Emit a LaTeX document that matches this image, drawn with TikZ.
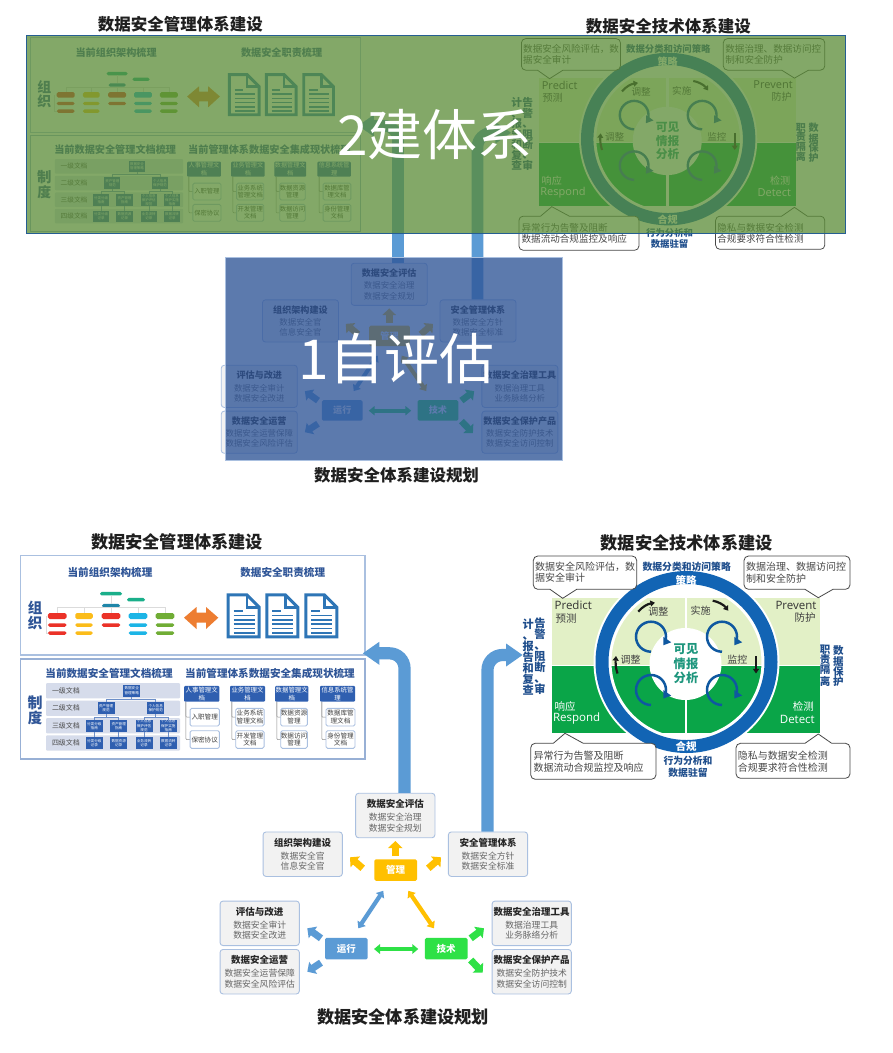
\documentclass[tikz,border=0pt]{standalone}
\usepackage{fontspec}
\setmainfont{Noto Sans CJK SC}
\newfontfamily\latinf{Open Sans}
\usetikzlibrary{arrows.meta}
\definecolor{ovG}{RGB}{90,140,54}
\definecolor{ovB}{RGB}{47,85,151}
\definecolor{navy}{RGB}{47,85,151}
\definecolor{deepnavy}{RGB}{31,78,140}
\definecolor{bigblue}{RGB}{91,155,213}
\definecolor{ringblue}{RGB}{18,100,180}
\definecolor{loopblue}{RGB}{15,88,160}
\definecolor{lightq}{RGB}{226,240,198}
\definecolor{darkq}{RGB}{10,165,72}
\definecolor{docblue}{RGB}{46,117,182}
\definecolor{boxblue}{RGB}{47,95,176}
\definecolor{band}{RGB}{214,220,235}
\definecolor{edgeblue}{RGB}{170,192,224}
\definecolor{amber}{RGB}{255,192,0}
\definecolor{techgreen}{RGB}{46,225,70}
\definecolor{teal}{RGB}{30,150,125}
\definecolor{pillred}{RGB}{235,50,40}
\definecolor{pillyellow}{RGB}{251,188,26}
\definecolor{pillcyan}{RGB}{28,181,230}
\definecolor{pillgreen}{RGB}{112,173,53}
\definecolor{pilldeep}{RGB}{31,134,168}
\definecolor{pillteal}{RGB}{26,175,138}
\definecolor{swaporange}{RGB}{237,125,49}
\tikzset{
  x=1pt,y=-1pt,
  bigtitle/.style={font=\fontsize{17.2}{19}\selectfont\bfseries,text=black!88,inner sep=0},
  panelbox/.style={draw=edgeblue,line width=1.1pt,fill=white},
  headtext/.style={font=\fontsize{10.6}{12}\selectfont\bfseries,text=navy,inner sep=0},
  sidehead/.style={font=\fontsize{14.5}{15}\selectfont\bfseries,text=navy,inner sep=0,align=center},
  pillbox/.style={rounded corners=1.7pt,inner sep=0},
  faint/.style={draw=black!14,line width=.4pt},
  bandbox/.style={fill=band,rounded corners=1pt,inner sep=0,minimum width=134pt,minimum height=15.2pt},
  bandtext/.style={font=\fontsize{7}{8}\selectfont,text=black!70,inner sep=0},
  treebox/.style={fill=boxblue,text=white,inner sep=0,align=center,minimum width=17pt,minimum height=11.7pt,font=\fontsize{3.6}{4.4}\selectfont},
  treeline/.style={draw=boxblue!70,line width=.5pt},
  colhead/.style={fill=boxblue,text=white,inner sep=0,align=center,rounded corners=1pt,minimum height=15.7pt,font=\fontsize{6.4}{7.8}\selectfont},
  colitem/.style={fill=white,draw=edgeblue,line width=.9pt,rounded corners=1.5pt,inner sep=0,align=center,minimum height=17.6pt,text=black!75,font=\fontsize{6.6}{7.8}\selectfont},
  collink/.style={draw=black!45,line width=.5pt,rounded corners=1pt},
  callout/.style={draw=black!72,line width=.8pt,fill=white},
  calltext/.style={font=\fontsize{10}{11.7}\selectfont,text=black!72,inner sep=0,anchor=west,align=left},
  quadlat/.style={font=\latinf\fontsize{11.5}{13}\selectfont,inner sep=0},
  quadcjk/.style={font=\fontsize{10.5}{12}\selectfont,inner sep=0},
  looparrow/.style={draw=loopblue,line width=2.5pt,-{Triangle[length=7pt,width=9pt]}},
  bentblack/.style={draw=black!90,line width=2.2pt,-{Triangle[length=4.6pt,width=6pt]}},
  looplabel/.style={font=\fontsize{10}{11}\selectfont,text=black!75,inner sep=0},
  sidestack/.style={font=\fontsize{11.2}{11}\selectfont\bfseries,text=deepnavy,inner sep=0,align=center},
  sidestacksmall/.style={font=\fontsize{10.5}{10}\selectfont\bfseries,text=deepnavy,inner sep=0,align=center},
  navybold/.style={font=\fontsize{9.8}{12}\selectfont\bfseries,text=deepnavy,inner sep=0,align=center},
  infobox/.style={fill=black!5,draw=edgeblue,line width=.9pt,rounded corners=3pt,inner sep=0,align=center,minimum width=79.3pt,minimum height=44.5pt,text=black!60,font=\fontsize{8.8}{10.6}\selectfont},
  hub/.style={rounded corners=1.5pt,inner sep=0,text=white,minimum width=42.6pt,minimum height=21.5pt,font=\fontsize{9.5}{11}\selectfont\bfseries},
  blockarrow/.style={line width=7pt,-{Triangle[length=7pt,width=14pt]}},
  slimarrow/.style={line width=4.2pt,{Triangle[length=6pt,width=9.5pt]}-{Triangle[length=6pt,width=9.5pt]}},
  bentarrow/.style={draw=bigblue,line width=12.2pt,rounded corners=15pt,-{Triangle[length=16.6pt,width=21.8pt]}},
  bigword/.style={font=\fontsize{55}{60}\selectfont,text=white,inner sep=0}
}
\newcommand\pillnode[6]{\node[pillbox,fill=#6,minimum width=#4pt,minimum height=#5pt] (#1) at (#2,#3) {};}
\newcommand\docicon[2]{%
  \begin{scope}[shift={(#1,#2)},draw=docblue,line width=3pt,line join=miter]
    \draw (1.5,1.5) -- (20,1.5) -- (32.5,14) -- (32.5,43.5) -- (1.5,43.5) -- cycle;
    \draw[line width=2.4pt] (20,1.5) -- (20,14) -- (32.5,14);
    \draw[line width=1.6pt] (7,17.5) -- (16,17.5) (7,22) -- (28,22) (7,26.4) -- (28,26.4) (7,30.8) -- (28,30.8) (7,35.2) -- (28,35.2) (7,39.4) -- (28,39.4);
  \end{scope}}
\newcommand\stack[1]{\lineskiplimit=-10pt\relax #1}
% ---------- left panel: management system ----------
\newcommand\panelMgmt[1]{%
  \node[bigtitle] (#1title) at (177,541.7) {数据安全管理体系建设};
  \node[panelbox,minimum width=344.3pt,minimum height=99.3pt,inner sep=0] (#1org) at (192.85,605.35) {};
  \node[panelbox,minimum width=344.3pt,minimum height=100pt,inner sep=0,draw=edgeblue!85!navy] (#1sys) at (192.85,709) {};
  \node[headtext] (#1h1) at (110,572) {当前组织架构梳理};
  \node[headtext] (#1h2) at (282.7,572) {数据安全职责梳理};
  \node[sidehead] (#1zz) at (35,615) {\fontsize{14.5}{14.3}\selectfont 组\\织};
  \pillnode{#1a1}{57.3}{616}{18.7}{6}{pillred}
  \pillnode{#1a2}{57.3}{625}{18.7}{3.5}{pillred}
  \pillnode{#1a3}{57.3}{633}{18.7}{3.5}{pillred}
  \pillnode{#1b1}{84}{616}{17.5}{6}{pillyellow}
  \pillnode{#1b2}{84}{625}{17.5}{3.5}{pillyellow}
  \pillnode{#1b3}{84}{633}{17.5}{3.5}{pillyellow}
  \pillnode{#1c1}{111}{616}{18.7}{6}{pillred}
  \pillnode{#1c2}{111}{625}{18.7}{3.5}{pillred}
  \pillnode{#1c3}{111}{605.7}{18}{3.5}{pilldeep}
  \pillnode{#1c4}{111}{593.7}{22}{3.5}{pillteal}
  \pillnode{#1d1}{138}{616}{18.7}{6}{pillcyan}
  \pillnode{#1d2}{138}{625}{18.7}{3.5}{pillcyan}
  \pillnode{#1d3}{138}{633}{18.7}{3.5}{pillcyan}
  \pillnode{#1d4}{136}{599.7}{18}{3.5}{pillteal}
  \pillnode{#1e1}{165}{616}{18.7}{6}{pillgreen}
  \pillnode{#1e2}{165}{625}{18.7}{3.5}{pillgreen}
  \pillnode{#1e3}{165}{633}{18.7}{3.5}{pillgreen}
  \draw[faint] (#1a1.north) |- (#1e1.north |- #1c3.south) -- (#1e1.north);
  \draw[faint] (#1b1.north) -- (#1b1.north |- #1c3.south);
  \draw[faint] (#1d1.north) -- (#1d1.north |- #1c3.south);
  \draw[faint] (#1c4.south) -- (#1c3.north);
  \draw[faint] (#1c3.south) -- (#1c1.north);
  \draw[faint] ([xshift=-2pt]#1a1.west) |- (#1a3.west);
  \fill[swaporange] (184,617.7) -- (196.5,607) -- (196.5,612.7) -- (206,612.7) -- (206,607) -- (218.3,617.7) -- (206,629) -- (206,622.7) -- (196.5,622.7) -- (196.5,629) -- cycle;
  \docicon{226.7}{593.3}\docicon{265.3}{593.3}\docicon{304.3}{593.3}
  \node[headtext] (#1h3) at (109,673) {当前数据安全管理文档梳理};
  \node[headtext] (#1h4) at (270,673) {当前管理体系数据安全集成现状梳理};
  \node[sidehead] (#1zd) at (35,710) {\fontsize{15}{15}\selectfont 制\\度};
  \node[bandbox] (#1r1) at (113,690.8) {};
  \node[bandbox] (#1r2) at (113,708.3) {};
  \node[bandbox] (#1r3) at (113,725.8) {};
  \node[bandbox] (#1r4) at (113,742.9) {};
  \node[bandtext] (#1l1) at (66,690.8) {一级文档};
  \node[bandtext] (#1l2) at (66,708.3) {二级文档};
  \node[bandtext] (#1l3) at (66,725.8) {三级文档};
  \node[bandtext] (#1l4) at (66,742.9) {四级文档};
  \node[treebox] (#1t0) at (131.7,690.7) {数据安全\\管理策略};
  \node[treebox] (#1t1) at (106,708.3) {资产管理\\规范};
  \node[treebox] (#1t2) at (155.7,708.3) {个人信息\\保护规范};
  \node[treebox] (#1u1) at (94.3,726) {分类分级\\指南};
  \node[treebox] (#1u2) at (118.7,726) {资产管理\\指南};
  \node[treebox] (#1u3) at (144,726) {个人信息\\保护评估\\规范};
  \node[treebox] (#1u4) at (168.3,726) {个人信息\\保护实施\\指南};
  \node[treebox] (#1v1) at (94.3,743.3) {分类分级\\记录};
  \node[treebox] (#1v2) at (118.7,743.3) {数据资源\\记录};
  \node[treebox] (#1v3) at (144,743.3) {业务流转\\记录};
  \node[treebox] (#1v4) at (168.3,743.3) {数据流转\\记录};
  \draw[treeline] (#1t0.south) -- +(0,2.2) -| (#1t1.north);
  \draw[treeline] (#1t0.south) -- +(0,2.2) -| (#1t2.north);
  \draw[treeline] (#1t1.south) -- +(0,3) -| (#1u1.north);
  \draw[treeline] (#1t1.south) -- +(0,3) -| (#1u2.north);
  \draw[treeline] (#1t2.south) -- +(0,3) -| (#1u3.north);
  \draw[treeline] (#1t2.south) -- +(0,3) -| (#1u4.north);
  \draw[treeline] (#1u1) -- (#1v1); \draw[treeline] (#1u2) -- (#1v2);
  \draw[treeline] (#1u3) -- (#1v3); \draw[treeline] (#1u4) -- (#1v4);
  \node[colhead,minimum width=35.3pt] (#1c01) at (201.7,693.8) {人事管理文\\档};
  \node[colhead,minimum width=35pt] (#1c02) at (247.5,693.8) {业务管理文\\档};
  \node[colhead,minimum width=33.3pt] (#1c03) at (291.7,693.8) {数据管理文\\档};
  \node[colhead,minimum width=35pt] (#1c04) at (337.5,693.8) {信息系统管\\理};
  \draw[collink] ([xshift=2pt]#1c01.south west) |- (197,717.2);
  \draw[collink] ([xshift=2pt]#1c01.south west) |- (197,739.5);
  \draw[collink] ([xshift=2pt]#1c02.south west) |- (242,717.2);
  \draw[collink] ([xshift=2pt]#1c02.south west) |- (242,739.5);
  \draw[collink] ([xshift=2pt]#1c03.south west) |- (286,717.2);
  \draw[collink] ([xshift=2pt]#1c03.south west) |- (286,739.5);
  \draw[collink] ([xshift=2pt]#1c04.south west) |- (332,717.2);
  \draw[collink] ([xshift=2pt]#1c04.south west) |- (332,739.5);
  \node[colitem,minimum width=29.3pt] (#1i11) at (204.7,717.2) {入职管理};
  \node[colitem,minimum width=29.3pt] (#1i12) at (204.7,739.5) {保密协议};
  \node[colitem,minimum width=28.3pt] (#1i21) at (249.9,717.2) {业务系统\\管理文档};
  \node[colitem,minimum width=28.3pt] (#1i22) at (249.9,739.5) {开发管理\\文档};
  \node[colitem,minimum width=26.6pt] (#1i31) at (294,717.2) {数据资源\\管理};
  \node[colitem,minimum width=26.6pt] (#1i32) at (294,739.5) {数据访问\\管理};
  \node[colitem,minimum width=29pt] (#1i41) at (340.5,717.2) {数据库管\\理文档};
  \node[colitem,minimum width=29pt] (#1i42) at (340.5,739.5) {身份管理\\文档};
}
% ---------- right panel: technology system ----------
\newcommand\panelTech[1]{%
  \node[bigtitle] (#1title) at (686.7,543) {数据安全技术体系建设};
  \fill[lightq] (552,598) rectangle (684.7,665);
  \fill[lightq] (687.3,598) rectangle (820,665);
  \fill[darkq] (552,665) rectangle (684.7,732.7);
  \fill[darkq] (687.3,665) rectangle (820,732.7);
  \fill[white] (552,664.6) rectangle (820,665.4);
  \draw[white,line width=18pt] (686.5,662) circle (84);
  \draw[ringblue,line width=13pt] (686.5,662) circle (84.5);
  \node[circle,fill=white,minimum size=72pt,inner sep=0] (#1core) at (685.5,664) {};
  \node[font=\fontsize{12.3}{14.5}\selectfont\bfseries,text=teal,align=center,inner sep=0] (#1cotx) at (686,664) {可见\\情报\\分析};
  \node[font=\fontsize{10.5}{12}\selectfont\bfseries,text=white,inner sep=0] (#1ring1) at (686,580) {策略};
  \node[font=\fontsize{10.5}{12}\selectfont\bfseries,text=white,inner sep=0] (#1ring2) at (686,746.7) {合规};
  \draw[looparrow] (651,636.7) ++(90:15) arc (90:395:15);
  \draw[looparrow] (722,636.7) ++(90:15) arc (90:395:15);
  \draw[looparrow] (651,690) ++(90:15) arc (90:395:15);
  \draw[looparrow] (722,690) ++(90:15) arc (90:395:15);
  \draw[bentblack] (638.3,611.7) .. controls (643,606) and (648,604) .. (655,602.7);
  \draw[bentblack] (712.7,600.7) .. controls (718,601.5) and (724,605) .. (728.3,610.7);
  \draw[bentblack] (617.5,673.5) .. controls (615.5,668) and (615.5,662) .. (616,656);
  \draw[bentblack] (756,656) -- (756,673.5);
  \node[looplabel] (#1m1) at (658.3,611.7) {调整};
  \node[looplabel] (#1m2) at (700.7,610.7) {实施};
  \node[looplabel] (#1m3) at (630.7,659.3) {调整};
  \node[looplabel] (#1m4) at (737.3,659.3) {监控};
  \node[quadlat,text=black!80] (#1q1) at (573.3,605) {Predict};
  \node[quadcjk,text=black!75] (#1q2) at (566,618.3) {预测};
  \node[quadlat,text=black!80] (#1q3) at (796,605) {Prevent};
  \node[quadcjk,text=black!75] (#1q4) at (805,617.7) {防护};
  \node[quadcjk,text=white] (#1q5) at (565,706) {响应};
  \node[quadlat,text=white] (#1q6) at (576.7,719) {Respond};
  \node[quadcjk,text=white] (#1q7) at (803.3,706) {检测};
  \node[quadlat,text=white] (#1q8) at (797.3,719) {Detect};
  \draw[callout] [rounded corners=4.5pt] (533.3,556) -- (636.7,556) -- (636.7,589.3) [sharp corners] -- (576.7,589.3) -- (562.7,598.3) -- (550,589.3) [rounded corners=4.5pt] -- (533.3,589.3) -- cycle;
  \draw[callout] [rounded corners=4.5pt] (744,556) -- (850,556) -- (850,589.3) [sharp corners] -- (833,589.3) -- (818.3,597.7) -- (805,589.3) [rounded corners=4.5pt] -- (744,589.3) -- cycle;
  \draw[callout] [rounded corners=4.5pt] (530.7,743.3) [sharp corners] -- (553.3,743.3) -- (565,733.3) -- (583.3,743.3) [rounded corners=4.5pt] -- (656,743.3) -- (656,779.3) -- (530.7,779.3) -- cycle;
  \draw[callout] [rounded corners=4.5pt] (736,743.3) [sharp corners] -- (805,743.3) -- (818.3,734) -- (831.7,743.3) [rounded corners=4.5pt] -- (850,743.3) -- (850,778.3) -- (736,778.3) -- cycle;
  \node[calltext] (#1k1) at (535,572.2) {数据安全风险评估，数\\据安全审计};
  \node[calltext] (#1k2) at (746,572.5) {数据治理、数据访问控\\制和安全防护};
  \node[calltext] (#1k3) at (533.3,761.7) {异常行为告警及阻断\\数据流动合规监控及响应};
  \node[calltext] (#1k4) at (737.7,761.7) {隐私与数据安全检测\\合规要求符合性检测};
  \node[navybold] (#1n1) at (686.7,566.7) {数据分类和访问策略};
  \node[navybold] (#1n2) at (688,766.7) {行为分析和\\数据驻留};
  \node[sidestack] (#1s1) at (540,656.7) {\stack{告\\警\\、\\阻\\断\\、\\审}};
  \node[sidestack] (#1s2) at (528.3,656.7) {\stack{计\\、\\报\\告\\和\\复\\查}};
  \node[sidestacksmall] (#1s3) at (838.3,665.7) {\stack{数\\据\\保\\护}};
  \node[sidestacksmall] (#1s4) at (825,665.7) {\stack{职\\责\\隔\\离}};
}
% ---------- lower panel: planning ----------
\newcommand\panelPlan[3]{%
  \node[bigtitle] (#1title) at (403,1016.7) {数据安全体系建设规划};
  \node[infobox] (#1ev) at (395.3,815.5) {\textbf{\fontsize{9.5}{11}\selectfont\color{black!85}数据安全评估}\\[2.4pt]数据安全治理\\数据安全规划};
  \node[infobox] (#1og) at (302.7,854.2) {\textbf{\fontsize{9.5}{11}\selectfont\color{black!85}组织架构建设}\\[2.4pt]数据安全官\\信息安全官};
  \node[infobox] (#1sm) at (488,854.2) {\textbf{\fontsize{9.5}{11}\selectfont\color{black!85}安全管理体系}\\[2.4pt]数据安全方针\\数据安全标准};
  \node[infobox] (#1ag) at (259.7,923.3) {\textbf{\fontsize{9.5}{11}\selectfont\color{black!85}评估与改进}\\[2.4pt]数据安全审计\\数据安全改进};
  \node[infobox] (#1op) at (259.7,971.7) {\textbf{\fontsize{9.5}{11}\selectfont\color{black!85}数据安全运营}\\[2.4pt]数据安全运营保障\\数据安全风险评估};
  \node[infobox] (#1gv) at (531.7,923.3) {\textbf{\fontsize{9.5}{11}\selectfont\color{black!85}数据安全治理工具}\\[2.4pt]数据治理工具\\业务脉络分析};
  \node[infobox] (#1pd) at (531.7,971.7) {\textbf{\fontsize{9.5}{11}\selectfont\color{black!85}数据安全保护产品}\\[2.4pt]数据安全防护技术\\数据安全访问控制};
  \node[hub,fill=amber] (#1pm) at (395.7,870) {管理};
  \node[hub,fill=bigblue] (#1rn) at (346.3,948.7) {运行};
  \node[hub,fill=techgreen] (#1ts) at (446.2,948.7) {技术};
  \draw[blockarrow,draw=amber] ([shift={(-.4,-14)}]#1pm.center) -- ([shift={(0,25.5)}]#1ev.center);
  \draw[blockarrow,draw=amber] ([shift={(-33,-1.7)}]#1pm.center) -- ([shift={(47.3,3.1)}]#1og.center);
  \draw[blockarrow,draw=amber] ([shift={(32.6,-1.7)}]#1pm.center) -- ([shift={(-47,3.1)}]#1sm.center);
  \draw[blockarrow,draw=bigblue] ([shift={(-25.3,-10.4)}]#1rn.center) -- ([shift={(47.6,5)}]#1ag.center);
  \draw[blockarrow,draw=bigblue] ([shift={(-25.3,14)}]#1rn.center) -- ([shift={(47.6,0)}]#1op.center);
  \draw[blockarrow,draw=techgreen] ([shift={(24.5,-10.4)}]#1ts.center) -- ([shift={(-47.7,5)}]#1gv.center);
  \draw[blockarrow,draw=techgreen] ([shift={(24.5,11.3)}]#1ts.center) -- ([shift={(-49,1)}]#1pd.center);
  \draw[slimarrow,draw=bigblue] ([shift={(-12.4,20.8)}]#1pm.center) -- ([shift={(12,-20.4)}]#1rn.center);
  \draw[slimarrow,draw=amber] ([shift={(12.6,20.8)}]#1pm.center) -- ([shift={(-12.2,-20.4)}]#1ts.center);
  \draw[slimarrow,draw=techgreen] ([shift={(27.7,.3)}]#1rn.center) -- ([shift={(-27.9,.3)}]#1ts.center);
  \coordinate (#1tipL) at (362.7,#2);
  \coordinate (#1tipR) at (522.7,#3);
  \draw[bentarrow] ([xshift=9.2pt]#1ev.north) |- (#1tipL);
  \draw[bentarrow] ([xshift=-.5pt]#1sm.north) |- (#1tipR);
}
\begin{document}
\begin{tikzpicture}
\useasboundingbox (0,0) rectangle (893,1053);
\fill[white] (0,0) rectangle (893,1053);
% upper copy, scaled and covered
\begin{scope}[transform canvas={shift={(10.8pt,493.4pt)},xscale=.958,yscale=.955}]
  \panelMgmt{u}
\end{scope}
\begin{scope}[transform canvas={shift={(10.5pt,488.5pt)},xscale=.958,yscale=.948}]
  \panelTech{v}
\end{scope}
\begin{scope}[transform canvas={shift={(10.5pt,488pt)},xscale=.958,yscale=.947}]
  \panelPlan{w}{648}{655.5}
\end{scope}
\node[fill=ovG,fill opacity=.75,draw=docblue!80!black,line width=.8pt,minimum width=819pt,minimum height=197.6pt,inner sep=0] (greencover) at (435.5,134.5) {};
\node[fill=ovB,fill opacity=.78,draw=edgeblue,line width=.6pt,minimum width=337pt,minimum height=202.7pt,inner sep=0] (bluecover) at (394.2,358.7) {};
\node[bigword] (wordB) at (435,135) {2建体系};
\node[bigword] (wordA) at (396.5,359) {1自评估};
% lower copy
\panelMgmt{a}
\panelTech{b}
\panelPlan{c}{653.3}{655}
\end{tikzpicture}
\end{document}
